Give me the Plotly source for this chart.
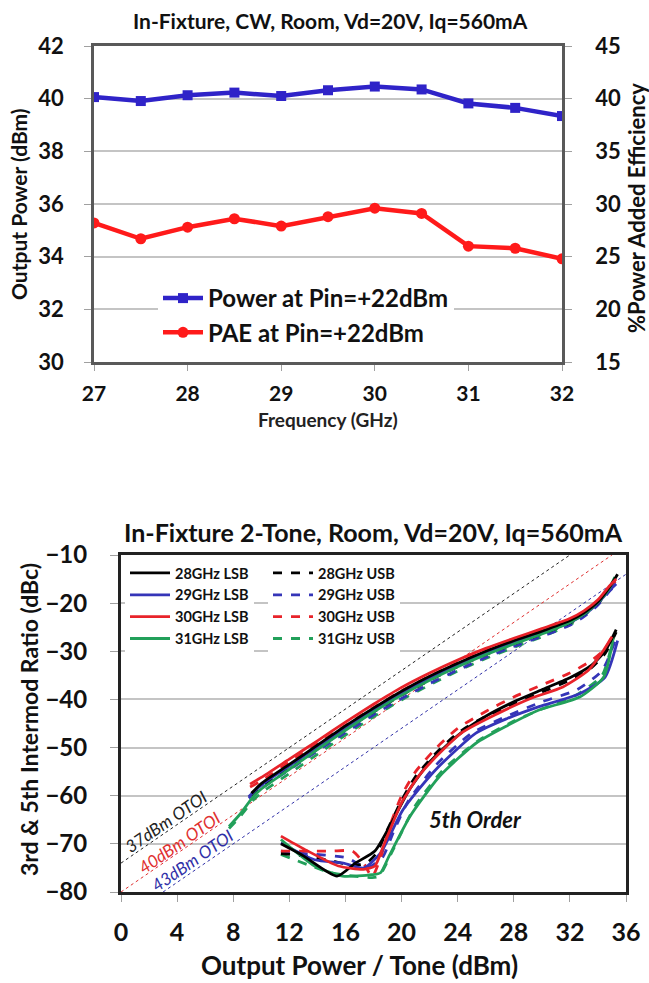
import plotly.graph_objects as go

FONT = "Lato"

# ---------------- Top chart data ----------------
freq_ghz = [27, 27.5, 28, 28.5, 29, 29.5, 30, 30.5, 31, 31.5, 32]
pout_dbm = [40.06, 39.91, 40.13, 40.23, 40.10, 40.32, 40.46, 40.35, 39.82, 39.65, 39.34]
pae_pct = [28.2, 26.7, 27.8, 28.6, 27.9, 28.8, 29.6, 29.1, 26.0, 25.8, 24.8]

# ---------------- Bottom chart data ----------------
# 3rd order IMD ratio (dBc) vs output power per tone (dBm)
im3_28_lsb_x = [9.3, 10, 12, 14, 16, 18, 20, 22, 24, 26, 28, 30, 32, 33, 34, 34.8, 35.4]
im3_28_lsb_y = [-59.5, -57.5, -53.5, -49.5, -45.5, -41.8, -38.3, -35.2, -32.5, -30.0, -27.8, -25.8, -23.6, -22.0, -19.7, -16.8, -14.0]
im3_28_usb_x = [9.3, 10, 12, 14, 16, 18, 20, 22, 24, 26, 28, 30, 32, 33, 34, 34.8, 35.4]
im3_28_usb_y = [-60.0, -58.2, -54.3, -50.3, -46.3, -42.6, -39.1, -36.0, -33.2, -30.7, -28.5, -26.4, -24.1, -22.4, -20.0, -17.2, -14.6]
im3_29_lsb_x = [9.1, 10, 12, 14, 16, 18, 20, 22, 24, 26, 28, 30, 32, 33, 34, 34.8, 35.3]
im3_29_lsb_y = [-60.2, -57.8, -53.8, -49.8, -46.0, -42.2, -38.7, -35.6, -32.8, -30.3, -28.2, -26.2, -24.0, -22.4, -20.0, -17.4, -16.0]
im3_29_usb_x = [9.1, 10, 12, 14, 16, 18, 20, 22, 24, 26, 28, 30, 32, 33, 34, 34.8, 35.3]
im3_29_usb_y = [-60.5, -58.5, -54.6, -50.7, -46.9, -43.2, -39.8, -36.7, -33.9, -31.3, -29.0, -26.9, -24.6, -22.8, -20.4, -17.6, -16.2]
im3_30_lsb_x = [9.2, 10, 12, 14, 16, 18, 20, 22, 24, 26, 28, 30, 32, 33, 34, 34.8, 35.3]
im3_30_lsb_y = [-57.6, -56.2, -52.4, -48.6, -44.7, -41.0, -37.5, -34.5, -31.8, -29.4, -27.3, -25.3, -23.2, -21.6, -19.3, -16.5, -15.0]
im3_30_usb_x = [9.2, 10, 12, 14, 16, 18, 20, 22, 24, 26, 28, 30, 32, 33, 34, 34.8, 35.3]
im3_30_usb_y = [-58.2, -56.9, -53.0, -49.2, -45.4, -41.7, -38.2, -35.2, -32.4, -29.9, -27.7, -25.7, -23.5, -21.9, -19.6, -16.8, -15.3]
im3_31_lsb_x = [7.7, 8.5, 9.4, 10, 12, 14, 16, 18, 20, 22, 24, 26, 28, 30, 32, 33, 34, 34.8, 35.2]
im3_31_lsb_y = [-66.4, -63.8, -60.3, -58.6, -54.5, -50.4, -46.4, -42.6, -39.1, -36.0, -33.2, -30.7, -28.5, -26.4, -24.0, -22.3, -19.8, -17.0, -14.6]
im3_31_usb_x = [7.7, 8.5, 9.4, 10, 12, 14, 16, 18, 20, 22, 24, 26, 28, 30, 32, 33, 34, 34.8, 35.2]
im3_31_usb_y = [-66.8, -64.3, -61.0, -59.4, -55.4, -51.4, -47.4, -43.6, -40.1, -37.0, -34.1, -31.5, -29.2, -27.0, -24.5, -22.6, -20.1, -17.3, -14.9]

# 5th order IMD ratio (dBc)
im5_28_lsb_x = [11.4, 13, 15.4, 16.7, 18.1, 19.4, 20.5, 22, 24, 26, 28, 30, 32, 33.5, 34.5, 35.3]
im5_28_lsb_y = [-70.0, -72.5, -76.7, -74.0, -71.5, -65.0, -59.0, -53.0, -47.5, -43.5, -40.5, -38.0, -35.5, -33.0, -30.0, -25.5]
im5_28_usb_x = [11.4, 13, 15, 16.5, 17.5, 18.2, 19, 20, 21, 22.5, 24, 26, 28, 30, 32, 33.5, 34.5, 35.3]
im5_28_usb_y = [-72.0, -72.5, -73.5, -74.5, -74.0, -72.0, -67.0, -61.0, -56.0, -51.0, -47.0, -43.5, -41.0, -38.5, -36.0, -33.5, -30.5, -26.0]
im5_29_lsb_x = [11.4, 13.8, 15.85, 17.3, 18.5, 20.1, 22.4, 25.3, 27.5, 29.8, 32.7, 34.5, 35.4]
im5_29_lsb_y = [-69.8, -73.3, -74.0, -75.0, -71.9, -62.9, -54.7, -47.0, -44.0, -41.5, -38.8, -35.4, -27.8]
im5_29_usb_x = [11.4, 13, 16.1, 17.5, 18.6, 19.5, 20.5, 22.5, 25, 27.5, 30, 32.5, 34.3, 35.2]
im5_29_usb_y = [-71.5, -72.0, -72.9, -75.0, -73.0, -67.0, -61.0, -53.5, -47.0, -43.5, -40.5, -38.0, -34.0, -28.0]
im5_30_lsb_x = [11.4, 13, 15.5, 17.3, 18.1, 18.7, 20, 21.2, 22.7, 24.4, 26.8, 29.2, 31.5, 33.3, 34.4, 35.0]
im5_30_lsb_y = [-68.4, -71.0, -74.6, -75.3, -74.6, -70.5, -61.5, -56.0, -51.2, -46.7, -43.0, -39.8, -37.4, -34.0, -29.8, -27.0]
im5_30_usb_x = [11.4, 13, 15, 16.5, 17.3, 17.9, 18.6, 19.2, 20, 21, 22.5, 24, 26, 28, 30, 32, 33.5, 34.5, 35.0]
im5_30_usb_y = [-71.5, -71.5, -71.5, -71.5, -74.0, -76.8, -72.0, -66.0, -60.0, -55.0, -50.0, -46.0, -42.5, -39.5, -37.0, -34.5, -32.0, -29.5, -27.0]
im5_31_lsb_x = [11.4, 13.8, 15.8, 17.9, 18.5, 19.1, 20.6, 22.7, 25.3, 27.5, 29.8, 32.7, 34.4, 35.1]
im5_31_lsb_y = [-69.1, -74.6, -76.7, -76.4, -76.0, -72.6, -64.3, -56.0, -49.1, -45.5, -42.2, -39.5, -35.4, -27.1]
im5_31_usb_x = [11.4, 15, 17.9, 18.4, 19.4, 21, 23, 25.5, 28, 30, 32.5, 34.3, 35.0]
im5_31_usb_y = [-72.2, -76.0, -77.0, -76.7, -71.2, -62.0, -54.5, -48.5, -44.5, -42.0, -39.0, -35.0, -28.5]

# OTOI reference lines (end points)
otoi_labels = ["37dBm OTOI", "40dBm OTOI", "43dBm OTOI"]
otoi_x = [[0, 32], [0, 35], [3, 36]]
otoi_y = [[-74, -10], [-80, -10], [-80, -14]]
otoi_label_x = [3.2, 4.15, 5.05]
otoi_label_y = [-65.4, -69.7, -73.4]
otoi_colors = ["#222222", "#E03030", "#3030A8"]

series_names = ["28GHz", "29GHz", "30GHz", "31GHz"]
series_colors = ["#000000", "#3535B8", "#E8232A", "#22A05A"]

im3 = {
    ("28GHz", "LSB"): (im3_28_lsb_x, im3_28_lsb_y), ("28GHz", "USB"): (im3_28_usb_x, im3_28_usb_y),
    ("29GHz", "LSB"): (im3_29_lsb_x, im3_29_lsb_y), ("29GHz", "USB"): (im3_29_usb_x, im3_29_usb_y),
    ("30GHz", "LSB"): (im3_30_lsb_x, im3_30_lsb_y), ("30GHz", "USB"): (im3_30_usb_x, im3_30_usb_y),
    ("31GHz", "LSB"): (im3_31_lsb_x, im3_31_lsb_y), ("31GHz", "USB"): (im3_31_usb_x, im3_31_usb_y),
}
im5 = {
    ("28GHz", "LSB"): (im5_28_lsb_x, im5_28_lsb_y), ("28GHz", "USB"): (im5_28_usb_x, im5_28_usb_y),
    ("29GHz", "LSB"): (im5_29_lsb_x, im5_29_lsb_y), ("29GHz", "USB"): (im5_29_usb_x, im5_29_usb_y),
    ("30GHz", "LSB"): (im5_30_lsb_x, im5_30_lsb_y), ("30GHz", "USB"): (im5_30_usb_x, im5_30_usb_y),
    ("31GHz", "LSB"): (im5_31_lsb_x, im5_31_lsb_y), ("31GHz", "USB"): (im5_31_usb_x, im5_31_usb_y),
}

W, H = 649, 983
def px(x):
    return x / W
def py(y):
    return 1 - y / H

fig = go.Figure()

# ---- top chart traces ----
fig.add_trace(go.Scatter(
    x=freq_ghz, y=pout_dbm, name="Power at Pin=+22dBm", mode="lines+markers",
    line=dict(color="#2F23C8", width=4.5), marker=dict(symbol="square", size=10, color="#2F23C8"),
    xaxis="x", yaxis="y", legend="legend3", legendgroup="p", legendrank=1))
fig.add_trace(go.Scatter(
    x=freq_ghz, y=pae_pct, name="PAE at Pin=+22dBm", mode="lines+markers",
    line=dict(color="#FF1A1A", width=4.5), marker=dict(symbol="circle", size=11, color="#FF1A1A"),
    xaxis="x", yaxis="y2", legend="legend3", legendgroup="e", legendrank=2))

# ---- bottom chart: OTOI lines ----
for lx, ly, c in zip(otoi_x, otoi_y, otoi_colors):
    fig.add_trace(go.Scatter(x=lx, y=ly, mode="lines", line=dict(color=c, width=1, dash="dot"),
                             xaxis="x2", yaxis="y3", showlegend=False, hoverinfo="skip"))

# ---- bottom chart: IMD curves ----
draw_order = [("31GHz", "USB"), ("29GHz", "USB"), ("28GHz", "USB"), ("30GHz", "USB"),
              ("29GHz", "LSB"), ("31GHz", "LSB"), ("28GHz", "LSB"), ("30GHz", "LSB")]
for key in draw_order:
    name, sb = key
    i = series_names.index(name)
    col = series_colors[i]
    dash = "solid" if sb == "LSB" else "dash"
    leg = "legend" if sb == "LSB" else "legend2"
    grp = name + sb
    x3, y3 = im3[key]
    x5, y5 = im5[key]
    fig.add_trace(go.Scatter(x=x3, y=y3, mode="lines", name=f"{name} {sb}",
                             line=dict(color=col, width=2.8, dash=dash, shape="spline", smoothing=0.6),
                             xaxis="x2", yaxis="y3", legend=leg, legendgroup=grp, legendrank=i + 1))
    fig.add_trace(go.Scatter(x=x5, y=y5, mode="lines", name=f"{name} {sb}",
                             line=dict(color=col, width=2.8, dash=dash, shape="spline", smoothing=0.6),
                             xaxis="x2", yaxis="y3", legend=leg, legendgroup=grp, showlegend=False))

axis_line = "#595959"
grid = "#C4C4C4"
DARK = "#111111"
tickfont_top = dict(family=FONT, size=22, color=DARK, weight="bold")

fig.update_layout(
    width=W, height=H, margin=dict(l=0, r=0, t=0, b=0, autoexpand=False),
    paper_bgcolor="white", plot_bgcolor="white",
    font=dict(family=FONT, color=DARK),
    xaxis=dict(domain=[px(94), px(562)], range=[27, 32], dtick=1, anchor="y", automargin=False,
               showline=True, mirror=True, linecolor=axis_line, linewidth=2.5,
               showgrid=False, zeroline=False, ticks="outside", ticklen=6, tickcolor="#A0A0A0",
               tickfont=dict(family=FONT, size=21, color=DARK, weight="bold"),
               ticklabelstandoff=5),
    yaxis=dict(domain=[py(362), py(46)], range=[30, 42], dtick=2, anchor="x", automargin=False,
               showline=True, mirror=True, linecolor=axis_line, linewidth=2.5,
               showgrid=True, gridcolor=grid, gridwidth=1.5, zeroline=False,
               ticks="outside", ticklen=7, tickcolor="#A0A0A0", tickfont=tickfont_top,
               ticklabelstandoff=16),
    yaxis2=dict(overlaying="y", side="right", range=[15, 45], dtick=5, anchor="x", automargin=False,
                showline=True, linecolor=axis_line, linewidth=2.5, showgrid=False, zeroline=False,
                ticks="outside", ticklen=7, tickcolor="#A0A0A0", tickfont=tickfont_top,
                ticklabelstandoff=19),
    xaxis2=dict(domain=[px(121), px(626)], range=[0, 36], dtick=4, anchor="y3", automargin=False,
                showline=True, mirror=True, linecolor="#222222", linewidth=3,
                showgrid=False, zeroline=False, ticks="outside", ticklen=7, tickcolor="#A0A0A0",
                tickfont=dict(family=FONT, size=25, color=DARK, weight="bold"), ticklabelstandoff=9),
    yaxis3=dict(domain=[py(892), py(555)], range=[-80, -10], dtick=10, anchor="x2", automargin=False,
                showline=True, mirror=True, linecolor="#222222", linewidth=3,
                showgrid=True, gridcolor=grid, gridwidth=1.5, zeroline=False,
                ticks="outside", ticklen=8, tickcolor="#A0A0A0",
                tickfont=dict(family=FONT, size=24, color=DARK, weight="bold"),
                ticklabelstandoff=18),
    legend=dict(x=px(125), y=py(557), xanchor="left", yanchor="top", bgcolor="white",
                font=dict(family=FONT, size=14.5, color=DARK, weight="bold"),
                traceorder="grouped", tracegroupgap=0, itemwidth=40),
    legend2=dict(x=px(268), y=py(557), xanchor="left", yanchor="top", bgcolor="white",
                 font=dict(family=FONT, size=14.5, color=DARK, weight="bold"),
                 traceorder="grouped", tracegroupgap=0, itemwidth=40),
    legend3=dict(x=px(158), y=py(276), xanchor="left", yanchor="top", bgcolor="white",
                 font=dict(family=FONT, size=24, color=DARK, weight="bold"),
                 traceorder="grouped", tracegroupgap=0, itemwidth=40),
    annotations=[
        dict(text="In-Fixture, CW, Room, Vd=20V, Iq=560mA", xref="paper", yref="paper",
             x=px(330), y=py(20), xanchor="center", yanchor="middle", showarrow=False,
             font=dict(family=FONT, size=21, color=DARK, weight="bold")),
        dict(text="Output Power (dBm)", xref="paper", yref="paper", x=px(18), y=py(204),
             xanchor="center", yanchor="middle", showarrow=False, textangle=-90,
             font=dict(family=FONT, size=21, color=DARK, weight="bold")),
        dict(text="%Power Added Efficiency", xref="paper", yref="paper", x=px(636), y=py(208),
             xanchor="center", yanchor="middle", showarrow=False, textangle=-90,
             font=dict(family=FONT, size=22, color=DARK, weight="bold")),
        dict(text="Frequency (GHz)", xref="paper", yref="paper", x=px(328), y=py(419),
             xanchor="center", yanchor="middle", showarrow=False,
             font=dict(family=FONT, size=19, color="#222222", weight="bold")),
        dict(text="In-Fixture 2-Tone, Room, Vd=20V, Iq=560mA", xref="paper", yref="paper",
             x=px(373), y=py(532), xanchor="center", yanchor="middle", showarrow=False,
             font=dict(family=FONT, size=25, color=DARK, weight="bold")),
        dict(text="3rd & 5th Intermod Ratio (dBc)", xref="paper", yref="paper", x=px(29), y=py(720),
             xanchor="center", yanchor="middle", showarrow=False, textangle=-90,
             font=dict(family=FONT, size=23, color=DARK, weight="bold")),
        dict(text="Output Power / Tone (dBm)", xref="paper", yref="paper", x=px(360), y=py(965),
             xanchor="center", yanchor="middle", showarrow=False,
             font=dict(family=FONT, size=26, color=DARK, weight="bold")),
        dict(text="<i>5th Order</i>", xref="x2", yref="y3", x=25.3, y=-65.0, showarrow=False,
             font=dict(family=FONT, size=22, color=DARK, weight="bold")),
    ] + [
        dict(text=f"<i>{t}</i>", xref="x2", yref="y3", x=lx, y=ly, showarrow=False, textangle=-34.5,
             font=dict(family=FONT, size=17, color=c))
        for t, lx, ly, c in zip(otoi_labels, otoi_label_x, otoi_label_y, otoi_colors)
    ],
)

fig.write_html("out.html", config={"displayModeBar": False},
               post_script="document.body.style.margin='0';document.body.style.overflow='hidden';")
